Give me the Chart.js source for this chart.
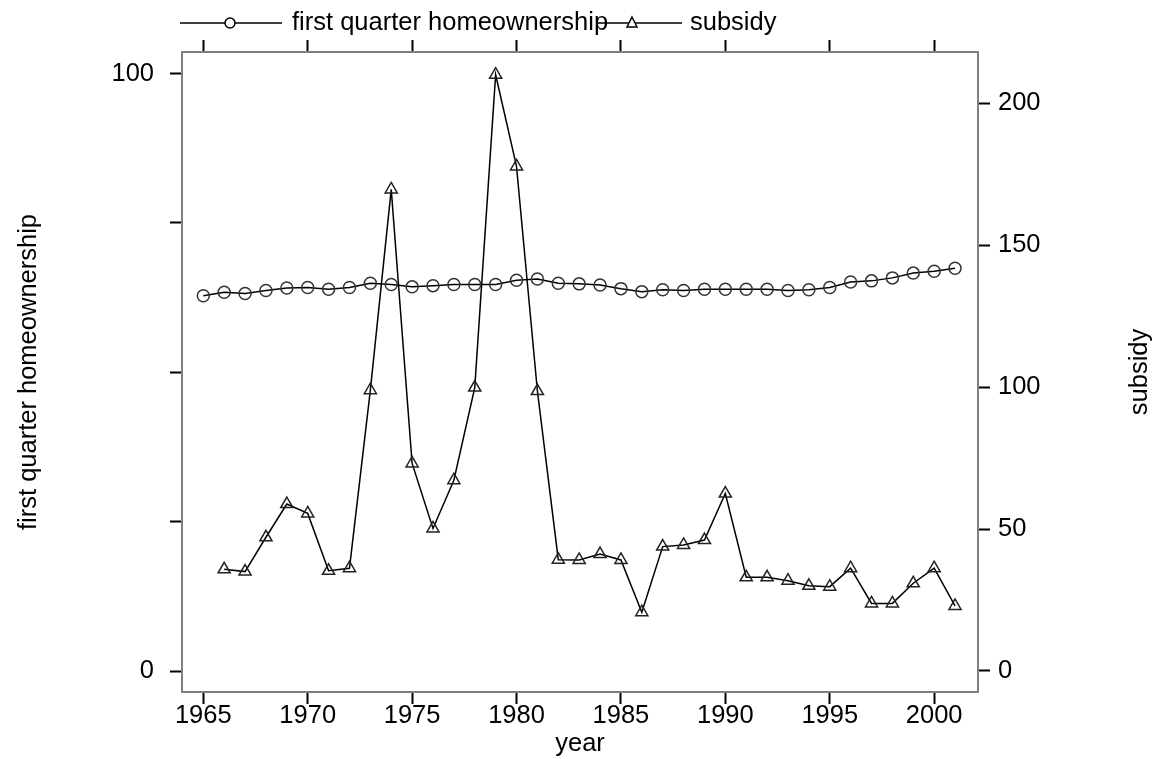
<!DOCTYPE html>
<html>
<head>
<meta charset="utf-8">
<script src="https://cdn.jsdelivr.net/npm/chart.js@4/dist/chart.umd.min.js"></script>
<style>
  html, body { margin: 0; padding: 0; background: #fff; }
  #wrap { width: 1157px; height: 759px; }
</style>
</head>
<body>
<div id="wrap"><canvas id="chartHome"></canvas></div>
<script>
// values
const years = [1965, 1966, 1967, 1968, 1969, 1970, 1971, 1972, 1973, 1974, 1975, 1976,
  1977, 1978, 1979, 1980, 1981, 1982, 1983, 1984, 1985, 1986, 1987, 1988, 1989, 1990,
  1991, 1992, 1993, 1994, 1995, 1996, 1997, 1998, 1999, 2000, 2001];

const homeownership = [62.8, 63.4, 63.2, 63.7, 64.1, 64.2, 63.9, 64.2, 64.9, 64.7, 64.3, 64.5,
  64.7, 64.7, 64.7, 65.4, 65.6, 64.9, 64.8, 64.6, 64.0, 63.5, 63.8, 63.7, 63.9, 63.9,
  63.9, 63.9, 63.7, 63.8, 64.2, 65.1, 65.3, 65.8, 66.6, 66.9, 67.4];

const subsidyYears = years.slice(1);
const subsidy = [35.8, 35.0, 47.1, 58.8, 55.5, 35.3, 36.2, 98.9, 169.6, 73.1, 50.2,
  67.2, 99.8, 210.0, 177.7, 98.6, 39.2, 39.1, 41.2, 39.1, 20.7, 43.8, 44.4, 46.1, 62.5,
  33.0, 33.0, 31.8, 30.0, 29.7, 36.2, 23.8, 23.8, 30.9, 36.2, 22.9];

const yearTicks = [1965, 1970, 1975, 1980, 1985, 1990, 1995, 2000];
const leftTicks = [0, 25, 50, 75, 100];
const leftLabels = [0, 100];
const rightTicks = [0, 50, 100, 150, 200];

const FONT = "'Liberation Sans', Arial, sans-serif";
const SIZE = 25.5;

const setTicks = list => scale => { scale.ticks = list.map(v => ({ value: v })); };

const tickGrid = {
  display: true,
  drawOnChartArea: false,
  drawTicks: true,
  tickLength: 12,
  tickWidth: 2,
  tickColor: '#000'
};
const frame = { display: true, color: '#808080', width: 2 };

// legend + right title drawn by hand, R style
const extras = {
  id: 'extras',
  afterDraw(chart) {
    const ctx = chart.ctx;
    ctx.save();
    ctx.strokeStyle = '#000';
    ctx.lineWidth = 1.5;
    ctx.font = SIZE + 'px ' + FONT;
    ctx.fillStyle = '#000';
    ctx.textBaseline = 'middle';
    const ly = 23;
    // circle item
    ctx.beginPath(); ctx.moveTo(180, ly); ctx.lineTo(282, ly); ctx.stroke();
    ctx.fillStyle = '#fff';
    ctx.beginPath(); ctx.arc(230, ly, 5, 0, Math.PI * 2); ctx.fill(); ctx.stroke();
    ctx.fillStyle = '#000';
    ctx.fillText('first quarter homeownership', 292, ly);
    // triangle item
    ctx.beginPath(); ctx.moveTo(598, ly); ctx.lineTo(682, ly); ctx.stroke();
    ctx.fillStyle = '#fff';
    ctx.beginPath();
    ctx.moveTo(632, ly - 6); ctx.lineTo(637, ly + 4); ctx.lineTo(627, ly + 4); ctx.closePath();
    ctx.fill(); ctx.stroke();
    ctx.fillStyle = '#000';
    ctx.fillText('subsidy', 690, ly);
    // right axis title
    ctx.translate(1140, 372);
    ctx.rotate(-Math.PI / 2);
    ctx.textAlign = 'center';
    ctx.fillText('subsidy', 0, 0);
    ctx.restore();
  }
};

new Chart(document.getElementById('chartHome'), {
  type: 'line',
  data: {
    datasets: [
      {
        label: 'first quarter homeownership',
        data: years.map((y, i) => ({ x: y, y: homeownership[i] })),
        yAxisID: 'y',
        borderColor: '#000',
        borderWidth: 1.5,
        pointStyle: 'circle',
        pointRadius: 6,
        pointBorderColor: '#333',
        pointBorderWidth: 1.5,
        pointBackgroundColor: 'rgba(0,0,0,0)',
        tension: 0
      },
      {
        label: 'subsidy',
        data: subsidyYears.map((y, i) => ({ x: y, y: subsidy[i] })),
        yAxisID: 'y2',
        borderColor: '#000',
        borderWidth: 1.5,
        pointStyle: 'triangle',
        pointRadius: 7,
        pointBorderColor: '#222',
        pointBorderWidth: 1.5,
        pointBackgroundColor: 'rgba(0,0,0,0)',
        tension: 0
      }
    ]
  },
  options: {
    responsive: true,
    maintainAspectRatio: false,
    animation: false,
    layout: { padding: { top: 38 } },
    plugins: { legend: { display: false }, tooltip: { enabled: false } },
    scales: {
      x: {
        type: 'linear',
        position: 'bottom',
        min: 1963.98,
        max: 2002.1,
        afterBuildTicks: setTicks(yearTicks),
        afterFit: s => { s.height = 67; },
        grid: tickGrid,
        border: frame,
        ticks: { color: '#000', font: { family: FONT, size: SIZE }, padding: -3, maxRotation: 0, callback: v => String(v) },
        title: { display: true, text: 'year', color: '#000', font: { family: FONT, size: SIZE }, padding: { top: 0, bottom: 0 } }
      },
      x2: {
        type: 'linear',
        position: 'top',
        min: 1963.98,
        max: 2002.1,
        afterBuildTicks: setTicks(yearTicks),
        afterFit: s => { s.height = 14; },
        grid: tickGrid,
        border: frame,
        ticks: { callback: () => '' }
      },
      y: {
        position: 'left',
        min: -3.5,
        max: 103.6,
        afterBuildTicks: setTicks(leftTicks),
        afterFit: s => { s.width = 182; },
        grid: tickGrid,
        border: frame,
        ticks: {
          color: '#000',
          font: { family: FONT, size: SIZE },
          padding: 16,
          callback: v => leftLabels.includes(v) ? String(v) : ''
        },
        title: { display: true, text: 'first quarter homeownership', color: '#000', font: { family: FONT, size: SIZE }, padding: { top: 14, bottom: 0 } }
      },
      y2: {
        position: 'right',
        min: -7.4,
        max: 218,
        afterBuildTicks: setTicks(rightTicks),
        afterFit: s => { s.width = 179; },
        grid: tickGrid,
        border: frame,
        ticks: { color: '#000', font: { family: FONT, size: SIZE }, padding: 8 }
      }
    }
  },
  plugins: [extras]
});
</script>
</body>
</html>
